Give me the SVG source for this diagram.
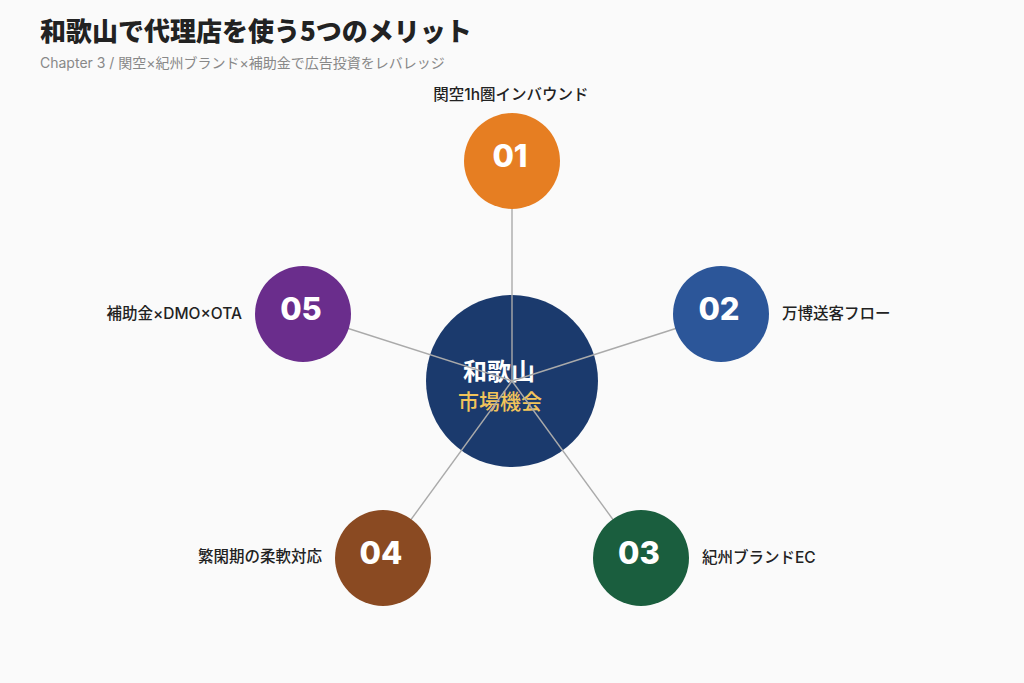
<svg xmlns="http://www.w3.org/2000/svg" width="1024" height="683" viewBox="0 0 1024 683">
<style>
.jp{font-family:"Noto Sans CJK JP","Noto Sans",sans-serif}
.mix{font-family:Inter,"Noto Sans CJK JP",sans-serif}
.lbl{font-family:Inter,"Noto Sans CJK JP",sans-serif;font-size:15.5px;font-weight:500;fill:#222}
.num{font-family:Inter,"Noto Sans",sans-serif;font-size:31px;font-weight:800;fill:#fff;text-anchor:middle}
.conn{stroke:#aaaaaa;stroke-width:1.4;fill:none}
</style>
<rect width="1024" height="683" fill="#fafafa"/>
<g id="title">
<text class="jp" x="40" y="41" font-size="26" font-weight="900" fill="#222">和歌山で代理店を使う5つのメリット</text>
<text class="mix" x="40" y="68" font-size="14" fill="#888">Chapter 3 / 関空×紀州ブランド×補助金で広告投資をレバレッジ</text>
</g>
<g id="center">
<circle cx="512" cy="381" r="86" fill="#1b3a6d"/>
<text class="jp" x="499" y="380" font-size="24" font-weight="700" fill="#fff" text-anchor="middle">和歌山</text>
<text class="jp" x="500" y="409" font-size="21" font-weight="500" fill="#f2c45a" text-anchor="middle">市場機会</text>
</g>
<g id="connectors">
<line class="conn" x1="512" y1="381" x2="512" y2="161"/>
<line class="conn" x1="512" y1="381" x2="721" y2="314"/>
<line class="conn" x1="512" y1="381" x2="641" y2="558"/>
<line class="conn" x1="512" y1="381" x2="383" y2="558"/>
<line class="conn" x1="512" y1="381" x2="303" y2="314"/>
</g>
<g id="n01">
<circle cx="512" cy="161" r="48" fill="#e67e22"/>
<text class="num" x="510" y="167">01</text>
<text class="lbl" x="511" y="100" text-anchor="middle">関空1h圏インバウンド</text>
</g>
<g id="n02">
<circle cx="721" cy="314" r="48" fill="#2c5699"/>
<text class="num" x="719" y="320">02</text>
<text class="lbl" x="782" y="319">万博送客フロー</text>
</g>
<g id="n03">
<circle cx="641" cy="558" r="48" fill="#1a5e3e"/>
<text class="num" x="639" y="564">03</text>
<text class="lbl" x="702" y="563">紀州ブランドEC</text>
</g>
<g id="n04">
<circle cx="383" cy="558" r="48" fill="#8a4a22"/>
<text class="num" x="381" y="564">04</text>
<text class="lbl" x="322" y="562" text-anchor="end">繁閑期の柔軟対応</text>
</g>
<g id="n05">
<circle cx="303" cy="314" r="48" fill="#6a2d8c"/>
<text class="num" x="301" y="320">05</text>
<text class="lbl" x="242" y="319" text-anchor="end">補助金×DMO×OTA</text>
</g>
</svg>
